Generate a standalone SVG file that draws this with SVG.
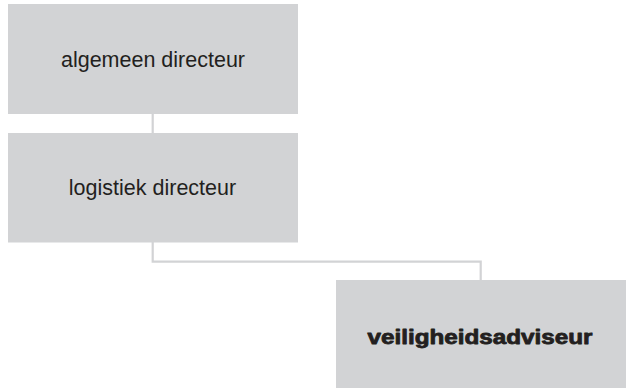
<svg xmlns="http://www.w3.org/2000/svg" width="626" height="388" viewBox="0 0 626 388">
<style>
.box{fill:#d2d3d5}
.lbl{font-family:"Liberation Sans",Arial,sans-serif;font-size:21.5px;fill:#231f20;text-anchor:middle}
.bold{font-weight:bold;font-size:20px;stroke:#231f20;stroke-width:0.8;stroke-linejoin:round}
.conn{fill:none;stroke:#d2d3d5;stroke-width:2.2}
</style>
<rect width="626" height="388" fill="#ffffff"/>
<g id="connectors">
<path class="conn" d="M152.7 114 V133"/>
<path class="conn" d="M152.7 242 V261.7 H480.7 V280"/>
</g>
<g id="node-algemeen-directeur">
<rect class="box" x="8" y="4" width="290" height="110"/>
<text class="lbl" x="153" y="67.3">algemeen directeur</text>
</g>
<g id="node-logistiek-directeur">
<rect class="box" x="8" y="133" width="290" height="109.5"/>
<text class="lbl" x="152.5" y="195.3">logistiek directeur</text>
</g>
<g id="node-veiligheidsadviseur">
<rect class="box" x="336" y="280" width="290" height="108"/>
<text class="lbl bold" x="480" y="343.7" textLength="225" lengthAdjust="spacingAndGlyphs">veiligheidsadviseur</text>
</g>
</svg>
